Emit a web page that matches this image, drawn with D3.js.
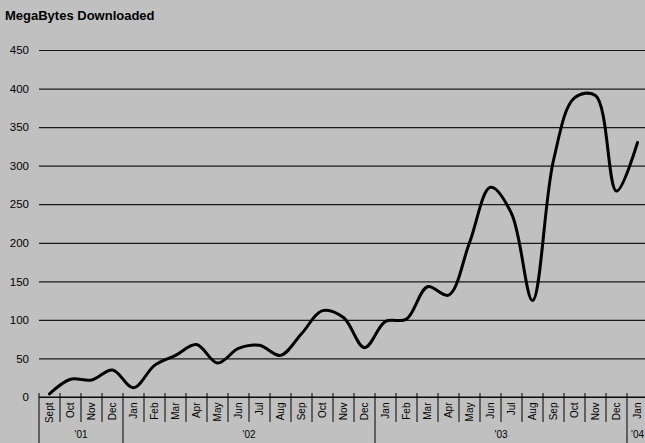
<!DOCTYPE html>
<html>
<head>
<meta charset="utf-8">
<script src="https://cdn.jsdelivr.net/npm/d3@7"></script>
<style>
  html, body { margin: 0; padding: 0; background: #c0c0c0; }
  svg { display: block; }
  text { font-family: "Liberation Sans", Arial, sans-serif; fill: #000; }
</style>
</head>
<body>
<svg id="chart" width="645" height="443"></svg>
<script>
// Monthly download volume (MB), Sept 2001 – Jan 2004
const months = ["Sept", "Oct", "Nov", "Dec",
  "Jan", "Feb", "Mar", "Apr", "May", "Jun", "Jul", "Aug", "Sep", "Oct", "Nov", "Dec",
  "Jan", "Feb", "Mar", "Apr", "May", "Jun", "Jul", "Aug", "Sep", "Oct", "Nov", "Dec",
  "Jan"];
const megabytes = [4, 23, 22, 35,
  12, 41, 54, 68, 44, 63, 67, 54, 82, 112, 103, 64,
  98, 101, 143, 132, 200, 272, 238, 125, 307, 388, 391, 267,
  330];
const yearLabels = ["'01", "'02", "'03", "'04"];
const yearMonthCounts = [4, 12, 12, 1];
const yTicks = [0, 50, 100, 150, 200, 250, 300, 350, 400, 450];
const chartTitle = "MegaBytes Downloaded";

const svg = d3.select("#chart");
const W = 645, H = 443;
const plotLeft = 39, plotRight = 648, plotTop = 50, axisY = 397;

svg.append("rect").attr("width", W).attr("height", H).attr("fill", "#c0c0c0");

const idx = months.map((_, i) => i);
const x = d3.scaleBand().domain(idx).range([plotLeft, plotRight]).padding(0);
const y = d3.scaleLinear().domain([0, 450]).range([axisY, plotTop]);

// Title
svg.append("text")
  .attr("x", 5).attr("y", 20)
  .attr("font-size", 13).attr("font-weight", "bold")
  .text(chartTitle);

// Horizontal gridlines and value labels
const yAxis = d3.axisLeft(y).tickValues(yTicks).tickSize(-(plotRight - plotLeft)).tickPadding(10);
const gy = svg.append("g").attr("transform", `translate(${plotLeft},0)`).call(yAxis);
gy.select(".domain").remove();
gy.selectAll(".tick line").attr("stroke", "#1a1a1a").attr("stroke-width", 1.2);
gy.selectAll(".tick text")
  .attr("font-size", 11.5)
  .attr("font-family", "Liberation Sans, Arial, sans-serif")
  .attr("fill", "#000");

// Category axis line
svg.append("line")
  .attr("x1", plotLeft).attr("x2", plotRight)
  .attr("y1", axisY).attr("y2", axisY)
  .attr("stroke", "#000").attr("stroke-width", 1.2);

// Month separators (longer at year boundaries)
const bounds = d3.range(months.length + 1).map(i => i < months.length ? x(i) : x(months.length - 1) + x.bandwidth());
const yearStarts = new Set();
let acc = 0;
yearMonthCounts.forEach(c => { yearStarts.add(acc); acc += c; });
svg.append("g").selectAll("line")
  .data(bounds.map((b, i) => ({ b, i })))
  .join("line")
  .attr("x1", d => d.b).attr("x2", d => d.b)
  .attr("y1", axisY - 4)
  .attr("y2", d => yearStarts.has(d.i) ? H : 422)
  .attr("stroke", "#000").attr("stroke-width", 1);

// Month labels (rotated)
svg.append("g").selectAll("text")
  .data(months)
  .join("text")
  .attr("transform", (d, i) => `translate(${x(i) + x.bandwidth() / 2 + 3.7},402.5) rotate(-90)`)
  .attr("text-anchor", "end")
  .attr("font-size", 10)
  .text(d => d);

// Year labels centred under their months
let start = 0;
const yearPos = yearMonthCounts.map((c) => {
  const s = start; start += c;
  const x0 = x(s), x1 = x(s + c - 1) + x.bandwidth();
  return (x0 + x1) / 2;
});
svg.append("g").selectAll("text")
  .data(yearLabels)
  .join("text")
  .attr("x", (d, i) => yearPos[i])
  .attr("y", 438)
  .attr("text-anchor", "middle")
  .attr("font-size", 10)
  .text(d => d);

// Smoothed data line
const line = d3.line()
  .x((d, i) => x(i) + x.bandwidth() / 2)
  .y(d => y(d))
  .curve(d3.curveCatmullRom.alpha(0.5));
svg.append("path")
  .datum(megabytes)
  .attr("d", line)
  .attr("fill", "none")
  .attr("stroke", "#000")
  .attr("stroke-width", 3)
  .attr("stroke-linejoin", "round")
  .attr("stroke-linecap", "round");
</script>
</body>
</html>
